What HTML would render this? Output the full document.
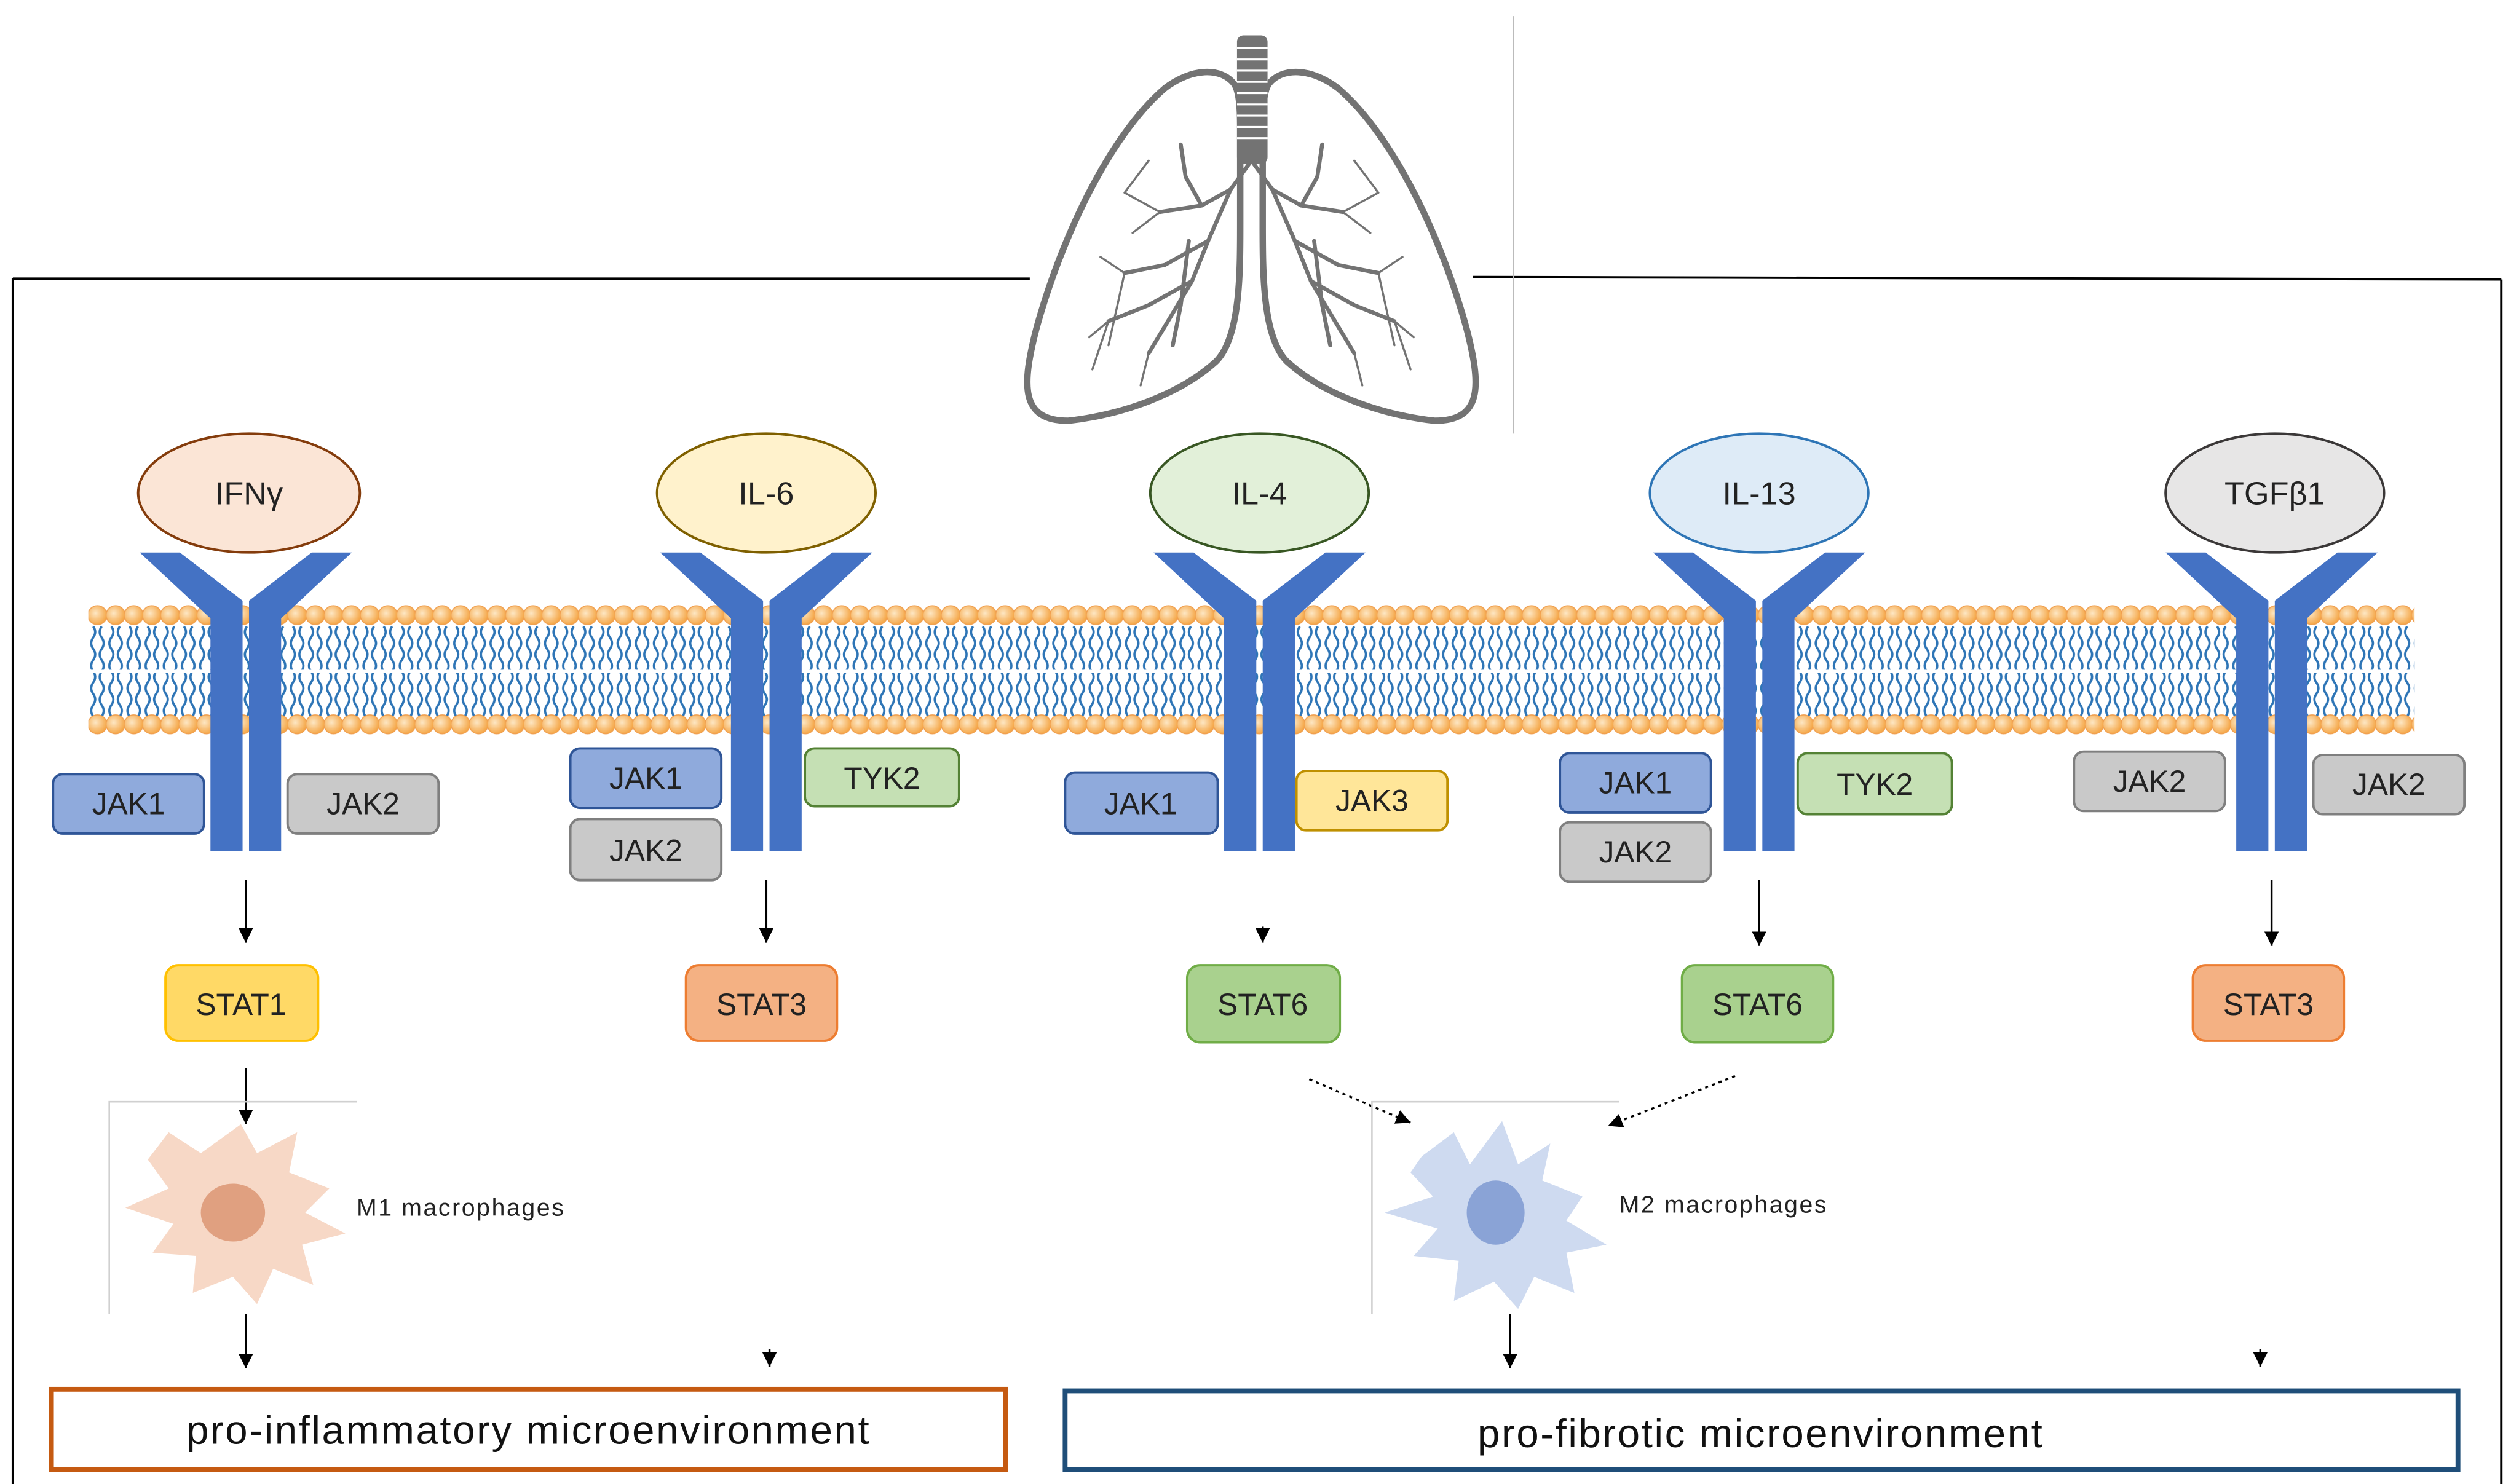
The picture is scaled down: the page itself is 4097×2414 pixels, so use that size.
<!DOCTYPE html>
<html><head><meta charset="utf-8"><style>
html,body{margin:0;padding:0;background:#fff;}
svg{display:block;}
text{font-family:"Liberation Sans",sans-serif;}
</style></head><body>
<svg width="4097" height="2414" viewBox="0 0 1568 924" preserveAspectRatio="none" xmlns="http://www.w3.org/2000/svg">
<defs>
<radialGradient id="bead" cx="0.4" cy="0.4" r="0.6">
<stop offset="0" stop-color="#fde7c4"/><stop offset="1" stop-color="#f5a748"/>
</radialGradient>
<pattern id="beadsT" x="55" y="376" width="11.3" height="14" patternUnits="userSpaceOnUse">
<circle cx="5.65" cy="7" r="5.9" fill="url(#bead)" stroke="#f0a050" stroke-width="0.6"/>
</pattern>
<pattern id="beadsB" x="55" y="444" width="11.3" height="14" patternUnits="userSpaceOnUse">
<circle cx="5.65" cy="7" r="5.9" fill="url(#bead)" stroke="#f0a050" stroke-width="0.6"/>
</pattern>
<pattern id="tails" x="55" y="390" width="11.3" height="28" patternUnits="userSpaceOnUse">
<path d="M3 0 Q5.5 3.5 3 7 Q0.5 10.5 3 14 Q5.5 17.5 3 21 Q0.5 24.5 3 28" fill="none" stroke="#2e75b6" stroke-width="1.4"/>
<path d="M8.3 0 Q5.8 3.5 8.3 7 Q10.8 10.5 8.3 14 Q5.8 17.5 8.3 21 Q10.8 24.5 8.3 28" fill="none" stroke="#2e75b6" stroke-width="1.4"/>
</pattern>
<marker id="ah" markerWidth="9" markerHeight="9" refX="9" refY="4.5" orient="auto" markerUnits="userSpaceOnUse">
<path d="M0,0 L9,4.5 L0,9 Z" fill="#000"/>
</marker>
<g id="rec">
<path d="M-66,344 L-41,344 L-2,374 L-2,530 L-22,530 L-22,385 Z" fill="#4472c4"/>
<path d="M66,344 L41,344 L2,374 L2,530 L22,530 L22,385 Z" fill="#4472c4"/>
</g>
</defs>

<!-- frame -->
<line x1="8" y1="173.5" x2="641" y2="173.5" stroke="#000" stroke-width="1.5"/>
<line x1="8" y1="173" x2="8" y2="924" stroke="#000" stroke-width="1.5"/>
<line x1="917" y1="172.5" x2="1557" y2="174" stroke="#000" stroke-width="1.5"/>
<line x1="1557" y1="174" x2="1557" y2="924" stroke="#000" stroke-width="1.5"/>
<line x1="942" y1="10" x2="942" y2="270" stroke="#bbb" stroke-width="1"/>

<!-- lungs -->
<g fill="none" stroke="#737373" stroke-linecap="round">
<path d="M768,52 C760,42 742,42 725,55 C690,85 660,150 645,205 C636,240 635,262 665,262 C700,258 735,245 757,225 C772,210 772,170 772,140 L772,80 C772,65 771,56 768,52 Z" stroke-width="4"/>
<path d="M790,52 C798,42 816,42 833,55 C868,85 898,150 913,205 C922,240 923,262 893,262 C858,258 823,245 801,225 C786,210 786,170 786,140 L786,80 C786,65 787,56 790,52 Z" stroke-width="4"/>
<path d="M779,100 L766,118 L752,150 L742,175 L730,195 M766,118 L748,128 L722,132 M748,128 L738,110 L735,90 M752,150 L725,165 L700,170 M742,175 L715,190 L690,200 M730,195 L715,220 M740,150 L735,190 L730,215" stroke-width="2.5"/>
<path d="M779,100 L792,118 L806,150 L816,175 L828,195 M792,118 L810,128 L836,132 M810,128 L820,110 L823,90 M806,150 L833,165 L858,170 M816,175 L843,190 L868,200 M828,195 L843,220 M818,150 L823,190 L828,215" stroke-width="2.5"/>
<path d="M722,132 L700,120 M722,132 L705,145 M700,170 L685,160 M690,200 L678,210 M715,220 L710,240 M700,120 L715,100 M836,132 L858,120 M836,132 L853,145 M858,170 L873,160 M868,200 L880,210 M843,220 L848,240 M858,120 L843,100 M690,200 L680,230 M868,200 L878,230 M700,170 L690,215 M858,170 L868,215" stroke-width="1.3"/>
</g>
<rect x="770" y="22" width="19" height="80" rx="4" fill="#737373"/>
<g stroke="#fff" stroke-width="1.2">
<line x1="770" y1="30" x2="789" y2="30"/><line x1="770" y1="37" x2="789" y2="37"/><line x1="770" y1="44" x2="789" y2="44"/>
<line x1="770" y1="51" x2="789" y2="51"/><line x1="770" y1="58" x2="789" y2="58"/><line x1="770" y1="65" x2="789" y2="65"/>
<line x1="770" y1="72" x2="789" y2="72"/><line x1="770" y1="79" x2="789" y2="79"/><line x1="770" y1="86" x2="789" y2="86"/>
</g>

<!-- membrane -->
<rect x="55" y="390" width="1448" height="27" fill="url(#tails)"/>
<rect x="55" y="419" width="1448" height="27" fill="url(#tails)"/>
<rect x="55" y="376" width="1448" height="14" fill="url(#beadsT)"/>
<rect x="55" y="444" width="1448" height="14" fill="url(#beadsB)"/>

<!-- receptors -->
<use href="#rec" x="153"/><use href="#rec" x="477"/><use href="#rec" x="784"/><use href="#rec" x="1095"/><use href="#rec" x="1414"/>

<!-- ligands -->
<g font-size="20" text-anchor="middle" fill="#222">
<ellipse cx="155" cy="307" rx="69" ry="37" fill="#fbe5d6" stroke="#843c0c" stroke-width="1.5"/><text x="155" y="314">IFNγ</text>
<ellipse cx="477" cy="307" rx="68" ry="37" fill="#fff2cc" stroke="#7f6000" stroke-width="1.5"/><text x="477" y="314">IL-6</text>
<ellipse cx="784" cy="307" rx="68" ry="37" fill="#e2f0d9" stroke="#385723" stroke-width="1.5"/><text x="784" y="314">IL-4</text>
<ellipse cx="1095" cy="307" rx="68" ry="37" fill="#deebf7" stroke="#2e75b6" stroke-width="1.5"/><text x="1095" y="314">IL-13</text>
<ellipse cx="1416" cy="307" rx="68" ry="37" fill="#e7e6e6" stroke="#3b3838" stroke-width="1.5"/><text x="1416" y="314">TGFβ1</text>
</g>

<!-- kinases -->
<g font-size="19" text-anchor="middle" fill="#222" stroke-width="1.5">
<rect x="33" y="482" width="94" height="37" rx="6" fill="#8faadc" stroke="#2f5597"/><text x="80" y="507">JAK1</text>
<rect x="179" y="482" width="94" height="37" rx="6" fill="#c9c9c9" stroke="#7f7f7f"/><text x="226" y="507">JAK2</text>
<rect x="355" y="466" width="94" height="37" rx="6" fill="#8faadc" stroke="#2f5597"/><text x="402" y="491">JAK1</text>
<rect x="355" y="510" width="94" height="38" rx="6" fill="#c9c9c9" stroke="#7f7f7f"/><text x="402" y="536">JAK2</text>
<rect x="501" y="466" width="96" height="36" rx="6" fill="#c5e0b4" stroke="#548235"/><text x="549" y="491">TYK2</text>
<rect x="663" y="481" width="95" height="38" rx="6" fill="#8faadc" stroke="#2f5597"/><text x="710" y="507">JAK1</text>
<rect x="807" y="480" width="94" height="37" rx="6" fill="#ffe699" stroke="#bf9000"/><text x="854" y="505">JAK3</text>
<rect x="971" y="469" width="94" height="37" rx="6" fill="#8faadc" stroke="#2f5597"/><text x="1018" y="494">JAK1</text>
<rect x="971" y="512" width="94" height="37" rx="6" fill="#c9c9c9" stroke="#7f7f7f"/><text x="1018" y="537">JAK2</text>
<rect x="1119" y="469" width="96" height="38" rx="6" fill="#c5e0b4" stroke="#548235"/><text x="1167" y="495">TYK2</text>
<rect x="1291" y="468" width="94" height="37" rx="6" fill="#c9c9c9" stroke="#7f7f7f"/><text x="1338" y="493">JAK2</text>
<rect x="1440" y="470" width="94" height="37" rx="6" fill="#c9c9c9" stroke="#7f7f7f"/><text x="1487" y="495">JAK2</text>
</g>

<!-- arrows -->
<g stroke="#000" stroke-width="1.3" marker-end="url(#ah)">
<line x1="153" y1="548" x2="153" y2="587"/>
<line x1="477" y1="548" x2="477" y2="587"/>
<line x1="786" y1="577" x2="786" y2="587"/>
<line x1="1095" y1="548" x2="1095" y2="589"/>
<line x1="1414" y1="548" x2="1414" y2="589"/>
<line x1="153" y1="665" x2="153" y2="700"/>
<line x1="153" y1="818" x2="153" y2="852"/>
<line x1="479" y1="840" x2="479" y2="851"/>
<line x1="940" y1="818" x2="940" y2="852"/>
<line x1="1407" y1="840" x2="1407" y2="851"/>
</g>
<g stroke="#000" stroke-width="1.3" stroke-dasharray="2,2.5" marker-end="url(#ah)">
<line x1="815" y1="672" x2="878" y2="699"/>
<line x1="1080" y1="670" x2="1001" y2="701"/>
</g>

<!-- STATs -->
<g font-size="19" text-anchor="middle" fill="#222" stroke-width="1.5">
<rect x="103" y="601" width="95" height="47" rx="8" fill="#ffd966" stroke="#ffc000"/><text x="150" y="632">STAT1</text>
<rect x="427" y="601" width="94" height="47" rx="8" fill="#f4b183" stroke="#ed7d31"/><text x="474" y="632">STAT3</text>
<rect x="739" y="601" width="95" height="48" rx="8" fill="#a9d18e" stroke="#70ad47"/><text x="786" y="632">STAT6</text>
<rect x="1047" y="601" width="94" height="48" rx="8" fill="#a9d18e" stroke="#70ad47"/><text x="1094" y="632">STAT6</text>
<rect x="1365" y="601" width="94" height="47" rx="8" fill="#f4b183" stroke="#ed7d31"/><text x="1412" y="632">STAT3</text>
</g>

<!-- macrophages -->
<path d="M68,818 L68,686 L222,686" fill="none" stroke="#d0d0d0" stroke-width="1"/>
<path d="M105,705 L125,718 L150,700 L160,718 L185,705 L180,730 L205,740 L190,755 L215,768 L188,775 L195,800 L170,790 L160,812 L145,795 L120,805 L122,782 L95,780 L108,762 L78,752 L105,740 L92,722 Z" fill="#f6d4c0" opacity="0.9"/>
<ellipse cx="145" cy="755" rx="20" ry="18" fill="#e0a080"/>
<text x="222" y="757" font-size="15" fill="#222" letter-spacing="1">M1 macrophages</text>

<path d="M854,818 L854,686 L1008,686" fill="none" stroke="#d0d0d0" stroke-width="1"/>
<path d="M885,720 L905,705 L915,725 L935,698 L945,725 L965,712 L960,735 L985,745 L975,760 L1000,775 L975,780 L980,805 L955,795 L945,815 L930,798 L905,810 L908,785 L880,782 L895,765 L862,755 L892,745 L878,730 Z" fill="#c9d6ee" opacity="0.9"/>
<ellipse cx="931" cy="755" rx="18" ry="20" fill="#8aa3d6"/>
<text x="1008" y="755" font-size="15" fill="#222" letter-spacing="1">M2 macrophages</text>

<!-- bottom boxes -->
<rect x="32" y="865" width="594" height="50" fill="#fff" stroke="#c55a11" stroke-width="3"/>
<text x="329" y="899" font-size="25" text-anchor="middle" fill="#111" letter-spacing="1">pro-inflammatory microenvironment</text>
<rect x="663" y="866" width="867" height="49" fill="#fff" stroke="#1f4e79" stroke-width="3"/>
<text x="1096" y="901" font-size="25" text-anchor="middle" fill="#111" letter-spacing="1">pro-fibrotic microenvironment</text>
</svg>
</body></html>
